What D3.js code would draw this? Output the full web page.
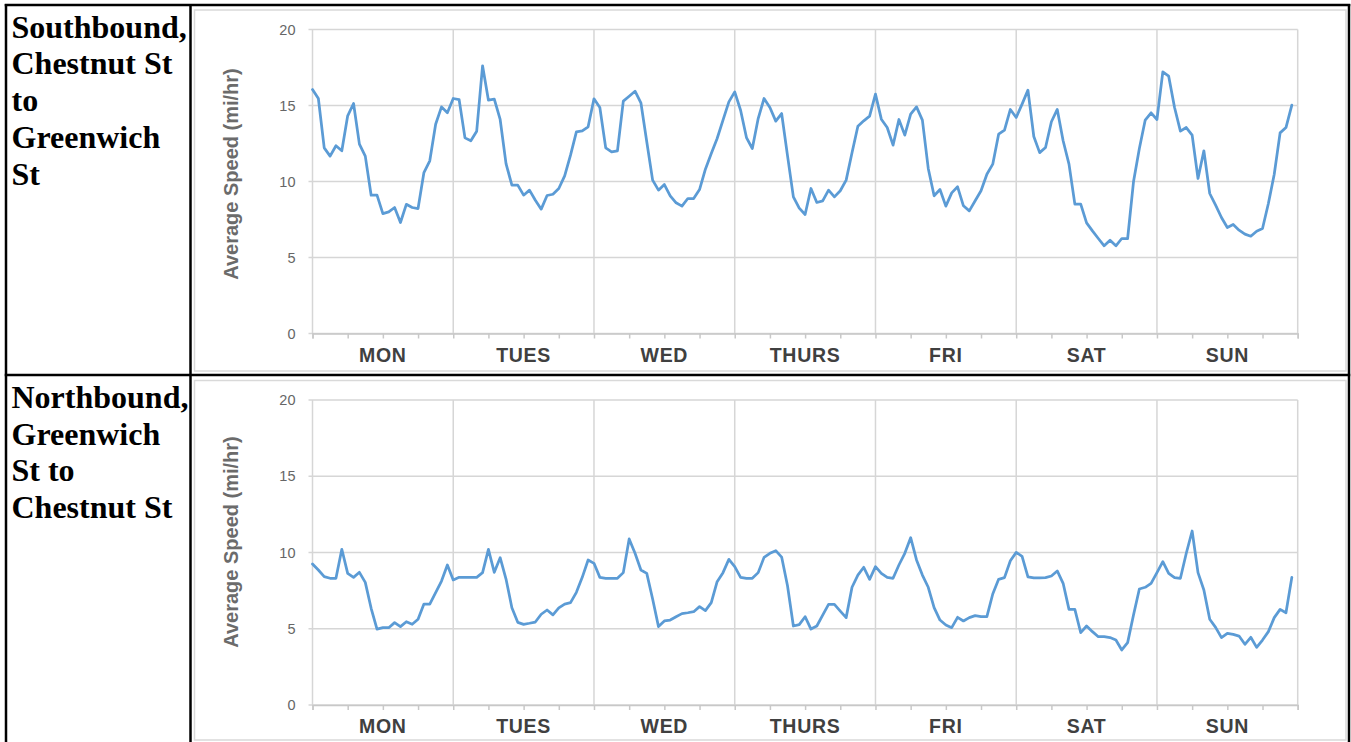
<!DOCTYPE html>
<html>
<head>
<meta charset="utf-8">
<script src="https://cdn.jsdelivr.net/npm/d3@7/dist/d3.min.js"></script>
<style>
  html, body { margin: 0; padding: 0; background: #fff; }
  svg { display: block; }
</style>
</head>
<body>
<svg id="chart" width="1351" height="742"></svg>
<script>
// ---------- data ----------
const days = ["MON", "TUES", "WED", "THURS", "FRI", "SAT", "SUN"];
const yTicks = [0, 5, 10, 15, 20];
const yTitle = "Average Speed (mi/hr)";
const rowLabels = [
  ["Southbound,", "Chestnut St", "to", "Greenwich", "St"],
  ["Northbound,", "Greenwich", "St to", "Chestnut St"]
];
// hourly average speed, Mon 00:00 .. Sun 23:00
const southbound = [
  16.05, 15.46, 12.21, 11.67, 12.35, 12.02, 14.32, 15.13, 12.46, 11.67, 9.10, 9.10,
  7.89, 8.00, 8.29, 7.30, 8.50, 8.29, 8.22, 10.59, 11.36, 13.77, 14.91, 14.52,
  15.46, 15.39, 12.87, 12.68, 13.31, 17.61, 15.35, 15.42, 14.08, 11.18, 9.76, 9.76,
  9.10, 9.43, 8.77, 8.18, 9.08, 9.16, 9.54, 10.37, 11.73, 13.27, 13.33, 13.60,
  15.44, 14.87, 12.21, 11.95, 12.02, 15.29, 15.61, 15.94, 15.18, 12.61, 10.09, 9.43,
  9.80, 9.06, 8.60, 8.38, 8.88, 8.88, 9.47, 10.81, 11.84, 12.83, 14.04, 15.24,
  15.90, 14.69, 12.89, 12.17, 14.14, 15.46, 14.87, 13.97, 14.47, 11.70, 8.99, 8.25,
  7.83, 9.54, 8.62, 8.73, 9.43, 8.99, 9.39, 10.09, 11.89, 13.64, 13.99, 14.30,
  15.75, 14.10, 13.55, 12.39, 14.08, 13.05, 14.43, 14.91, 14.04, 10.86, 9.06, 9.47,
  8.38, 9.25, 9.65, 8.40, 8.07, 8.73, 9.39, 10.48, 11.14, 13.11, 13.38, 14.74,
  14.21, 15.09, 16.01, 12.96, 11.90, 12.24, 13.93, 14.74, 12.68, 11.14, 8.51, 8.51,
  7.28, 6.75, 6.25, 5.77, 6.14, 5.77, 6.25, 6.25, 9.98, 12.17, 14.04, 14.52,
  14.08, 17.21, 16.93, 14.87, 13.31, 13.55, 13.05, 10.20, 12.02, 9.21, 8.44, 7.63,
  6.97, 7.17, 6.80, 6.54, 6.40, 6.73, 6.91, 8.55, 10.48, 13.20, 13.55, 15.02
];
const northbound = [
  9.25, 8.85, 8.42, 8.31, 8.31, 10.21, 8.63, 8.37, 8.70, 8.04, 6.34, 4.98,
  5.07, 5.07, 5.40, 5.14, 5.46, 5.29, 5.62, 6.62, 6.62, 7.37, 8.13, 9.18,
  8.20, 8.37, 8.37, 8.37, 8.37, 8.68, 10.21, 8.70, 9.66, 8.26, 6.38, 5.42,
  5.29, 5.36, 5.44, 5.95, 6.23, 5.91, 6.37, 6.62, 6.71, 7.39, 8.37, 9.51,
  9.29, 8.37, 8.31, 8.31, 8.31, 8.68, 10.89, 9.95, 8.85, 8.63, 6.95, 5.14,
  5.51, 5.57, 5.79, 5.99, 6.05, 6.12, 6.45, 6.19, 6.71, 8.09, 8.68, 9.55,
  9.07, 8.37, 8.31, 8.31, 8.68, 9.68, 9.95, 10.12, 9.70, 7.82, 5.18, 5.27,
  5.79, 4.98, 5.18, 5.90, 6.60, 6.60, 6.16, 5.73, 7.72, 8.52, 9.03, 8.24,
  9.07, 8.63, 8.37, 8.31, 9.18, 9.95, 10.97, 9.51, 8.52, 7.72, 6.38, 5.57,
  5.25, 5.07, 5.75, 5.51, 5.73, 5.86, 5.79, 5.79, 7.28, 8.24, 8.35, 9.46,
  10.01, 9.75, 8.40, 8.33, 8.33, 8.35, 8.46, 8.79, 7.98, 6.27, 6.27, 4.74,
  5.18, 4.81, 4.48, 4.48, 4.42, 4.26, 3.61, 4.09, 5.90, 7.61, 7.72, 7.98,
  8.68, 9.40, 8.63, 8.35, 8.31, 9.95, 11.41, 8.68, 7.54, 5.62, 5.09, 4.42,
  4.70, 4.63, 4.52, 3.98, 4.44, 3.78, 4.26, 4.81, 5.73, 6.27, 6.05, 8.37
];
const series = [southbound, northbound];

// ---------- layout ----------
const svg = d3.select("#chart");
const HOURS = days.length * 24;
const x = d3.scaleLinear().domain([0, HOURS]).range([312.5, 1297.7]);

const rows = [
  { frameTop: 10, frameBottom: 371, plotTop: 29.5, plotBottom: 333.5, titleY: 174, textTop: 37.5 },
  { frameTop: 380.5, frameBottom: 740, plotTop: 400, plotBottom: 705, titleY: 542, textTop: 407.7 }
];

const gridColor = "#d6d6d6";
const lineColor = "#5b9bd5";

rows.forEach((r, k) => {
  const y = d3.scaleLinear().domain([0, 20]).range([r.plotBottom, r.plotTop]);
  const g = svg.append("g");

  // chart image frame
  g.append("rect")
    .attr("x", 194.5).attr("y", r.frameTop)
    .attr("width", 1346 - 194.5).attr("height", r.frameBottom - r.frameTop)
    .attr("fill", "#fff").attr("stroke", "#d9d9d9").attr("stroke-width", 1.5);

  // horizontal grid
  g.append("g").selectAll("line").data(yTicks).join("line")
    .attr("x1", x(0) - 4).attr("x2", x(HOURS))
    .attr("y1", d => y(d)).attr("y2", d => y(d))
    .attr("stroke", gridColor).attr("stroke-width", 1.5);

  // vertical day grid + left axis
  g.append("g").selectAll("line").data(d3.range(0, HOURS + 1, 24)).join("line")
    .attr("x1", d => x(d)).attr("x2", d => x(d))
    .attr("y1", r.plotTop).attr("y2", r.plotBottom)
    .attr("stroke", gridColor).attr("stroke-width", 1.5);

  // x axis with 6-hour ticks
  const xAxis = d3.axisBottom(x).tickValues(d3.range(0, HOURS + 1, 6)).tickSize(5).tickFormat("");
  const ax = g.append("g").attr("transform", `translate(0,${r.plotBottom})`).call(xAxis);
  ax.select(".domain").attr("stroke", "#c8c8c8").attr("stroke-width", 1.5);
  ax.selectAll(".tick line").attr("stroke", "#c8c8c8").attr("stroke-width", 1.5);

  // day labels
  g.append("g").selectAll("text").data(days).join("text")
    .attr("x", (d, i) => x(i * 24 + 12))
    .attr("y", r.plotBottom + 28)
    .attr("text-anchor", "middle")
    .attr("font-family", "Liberation Sans, Arial, sans-serif")
    .attr("font-weight", "bold")
    .attr("font-size", 19.5)
    .attr("letter-spacing", 0.7)
    .attr("fill", "#404040")
    .text(d => d);

  // y axis labels
  const yAxis = d3.axisLeft(y).tickValues(yTicks).tickSize(0).tickPadding(17);
  const ay = g.append("g").attr("transform", `translate(${x(0)},0)`).call(yAxis);
  ay.select(".domain").remove();
  ay.selectAll("text")
    .attr("font-family", "Liberation Sans, Arial, sans-serif")
    .attr("font-size", 14.5)
    .attr("fill", "#666");

  // y title
  g.append("text")
    .attr("transform", `translate(238,${r.titleY}) rotate(-90)`)
    .attr("text-anchor", "middle")
    .attr("font-family", "Liberation Sans, Arial, sans-serif")
    .attr("font-weight", "bold")
    .attr("font-size", 20)
    .attr("fill", "#6b6b6b")
    .text(yTitle);

  // data line
  g.append("path")
    .datum(series[k])
    .attr("fill", "none")
    .attr("stroke", lineColor)
    .attr("stroke-width", 2.75)
    .attr("stroke-linejoin", "round")
    .attr("stroke-linecap", "round")
    .attr("d", d3.line().x((d, i) => x(i)).y(d => y(d)));

  // row label text
  g.append("text")
    .attr("font-family", "Liberation Serif, 'Times New Roman', serif")
    .attr("font-weight", "bold")
    .attr("font-size", 32)
    .attr("fill", "#000")
    .selectAll("tspan").data(rowLabels[k]).join("tspan")
    .attr("x", 11.5)
    .attr("y", (d, i) => r.textTop + i * 36.8)
    .text(d => d);
});

// table borders
const tb = svg.append("g").attr("stroke", "#000").attr("stroke-width", 2.5).attr("fill", "none");
tb.append("line").attr("x1", 6).attr("x2", 6).attr("y1", 4).attr("y2", 742);
tb.append("line").attr("x1", 1349).attr("x2", 1349).attr("y1", 4).attr("y2", 742);
tb.append("line").attr("x1", 190.5).attr("x2", 190.5).attr("y1", 4).attr("y2", 742);
tb.append("line").attr("x1", 4.75).attr("x2", 1350.25).attr("y1", 5).attr("y2", 5);
tb.append("line").attr("x1", 4.75).attr("x2", 1350.25).attr("y1", 375).attr("y2", 375);
</script>
</body>
</html>
